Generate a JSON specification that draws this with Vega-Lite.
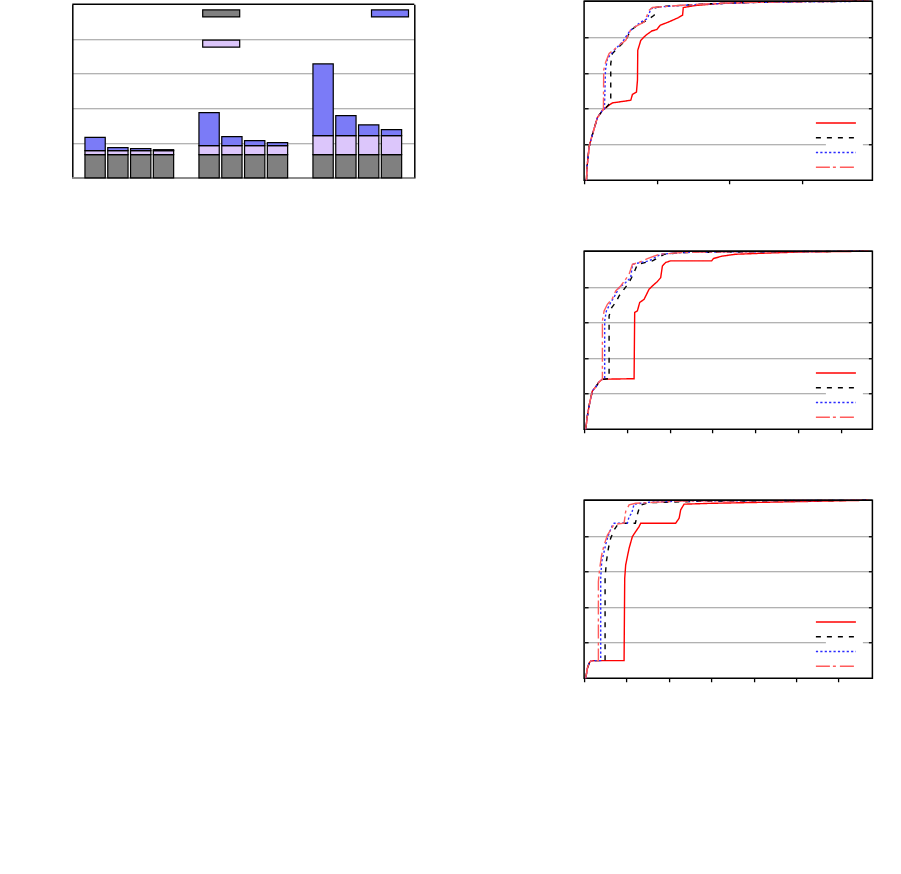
{
  "$schema": "https://vega.github.io/schema/vega-lite/v6.json",
  "background": "white",
  "padding": {"left": 71.3, "top": -2.75, "right": 0, "bottom": 0},
  "config": {
    "view": {"stroke": "black", "strokeWidth": 1.5},
    "axis": {"gridColor": "#999999", "gridWidth": 1, "minExtent": 0}
  },
  "datasets": {
    "bars": [
      {"slot": "g1a", "part": "base", "v": 0.67}, {"slot": "g1a", "part": "mid", "v": 0.115}, {"slot": "g1a", "part": "top", "v": 0.384},
      {"slot": "g1b", "part": "base", "v": 0.67}, {"slot": "g1b", "part": "mid", "v": 0.115}, {"slot": "g1b", "part": "top", "v": 0.086},
      {"slot": "g1c", "part": "base", "v": 0.67}, {"slot": "g1c", "part": "mid", "v": 0.115}, {"slot": "g1c", "part": "top", "v": 0.058},
      {"slot": "g1d", "part": "base", "v": 0.67}, {"slot": "g1d", "part": "mid", "v": 0.115}, {"slot": "g1d", "part": "top", "v": 0.029},
      {"slot": "g2a", "part": "base", "v": 0.67}, {"slot": "g2a", "part": "mid", "v": 0.26}, {"slot": "g2a", "part": "top", "v": 0.95},
      {"slot": "g2b", "part": "base", "v": 0.67}, {"slot": "g2b", "part": "mid", "v": 0.26}, {"slot": "g2b", "part": "top", "v": 0.259},
      {"slot": "g2c", "part": "base", "v": 0.67}, {"slot": "g2c", "part": "mid", "v": 0.26}, {"slot": "g2c", "part": "top", "v": 0.144},
      {"slot": "g2d", "part": "base", "v": 0.67}, {"slot": "g2d", "part": "mid", "v": 0.26}, {"slot": "g2d", "part": "top", "v": 0.086},
      {"slot": "g3a", "part": "base", "v": 0.67}, {"slot": "g3a", "part": "mid", "v": 0.55}, {"slot": "g3a", "part": "top", "v": 2.063},
      {"slot": "g3b", "part": "base", "v": 0.67}, {"slot": "g3b", "part": "mid", "v": 0.55}, {"slot": "g3b", "part": "top", "v": 0.576},
      {"slot": "g3c", "part": "base", "v": 0.67}, {"slot": "g3c", "part": "mid", "v": 0.55}, {"slot": "g3c", "part": "top", "v": 0.307},
      {"slot": "g3d", "part": "base", "v": 0.67}, {"slot": "g3d", "part": "mid", "v": 0.55}, {"slot": "g3d", "part": "top", "v": 0.173}
    ],
    "cdf1": [
      {"s":"S1","x":0.032,"y":0},{"s":"S1","x":0.041,"y":0.074},{"s":"S1","x":0.069,"y":0.186},{"s":"S1","x":0.105,"y":0.242},{"s":"S1","x":0.152,"y":0.307},{"s":"S1","x":0.183,"y":0.35},{"s":"S1","x":0.229,"y":0.376},{"s":"S1","x":0.252,"y":0.391},
      {"s":"S1","x":0.276,"y":0.397},{"s":"S1","x":0.321,"y":0.413},{"s":"S1","x":0.39,"y":0.432},{"s":"S1","x":0.643,"y":0.447},{"s":"S1","x":0.666,"y":0.48},{"s":"S1","x":0.721,"y":0.493},{"s":"S1","x":0.735,"y":0.559},{"s":"S1","x":0.739,"y":0.726},{"s":"S1","x":0.781,"y":0.782},{"s":"S1","x":0.85,"y":0.81},{"s":"S1","x":0.932,"y":0.834},{"s":"S1","x":1.001,"y":0.842},{"s":"S1","x":1.048,"y":0.866},{"s":"S1","x":1.163,"y":0.884},{"s":"S1","x":1.301,"y":0.909},{"s":"S1","x":1.356,"y":0.922},{"s":"S1","x":1.366,"y":0.965},{"s":"S1","x":1.531,"y":0.976},{"s":"S1","x":1.852,"y":0.987},{"s":"S1","x":2.308,"y":0.994},{"s":"S1","x":2.997,"y":0.999},{"s":"S1","x":3.92,"y":1.0},
      {"s":"S2","x":0.032,"y":0},{"s":"S2","x":0.041,"y":0.074},{"s":"S2","x":0.069,"y":0.186},{"s":"S2","x":0.105,"y":0.242},{"s":"S2","x":0.152,"y":0.307},{"s":"S2","x":0.183,"y":0.35},{"s":"S2","x":0.229,"y":0.376},{"s":"S2","x":0.262,"y":0.388},
      {"s":"S2","x":0.367,"y":0.435},{"s":"S2","x":0.367,"y":0.652},{"s":"S2","x":0.39,"y":0.708},{"s":"S2","x":0.459,"y":0.736},{"s":"S2","x":0.574,"y":0.782},{"s":"S2","x":0.643,"y":0.838},{"s":"S2","x":0.735,"y":0.866},{"s":"S2","x":0.85,"y":0.89},{"s":"S2","x":0.966,"y":0.922},{"s":"S2","x":0.979,"y":0.965},{"s":"S2","x":1.126,"y":0.972},{"s":"S2","x":1.71,"y":0.986},{"s":"S2","x":2.68,"y":0.997},{"s":"S2","x":3.92,"y":1.0},
      {"s":"S3","x":0.032,"y":0},{"s":"S3","x":0.041,"y":0.074},{"s":"S3","x":0.069,"y":0.186},{"s":"S3","x":0.105,"y":0.242},{"s":"S3","x":0.152,"y":0.307},{"s":"S3","x":0.183,"y":0.35},{"s":"S3","x":0.229,"y":0.376},{"s":"S3","x":0.252,"y":0.391},
      {"s":"S3","x":0.28,"y":0.397},{"s":"S3","x":0.294,"y":0.615},{"s":"S3","x":0.321,"y":0.68},{"s":"S3","x":0.414,"y":0.726},{"s":"S3","x":0.528,"y":0.773},{"s":"S3","x":0.621,"y":0.828},{"s":"S3","x":0.666,"y":0.847},{"s":"S3","x":0.781,"y":0.884},{"s":"S3","x":0.873,"y":0.903},{"s":"S3","x":0.919,"y":0.959},{"s":"S3","x":1.034,"y":0.968},{"s":"S3","x":1.577,"y":0.983},{"s":"S3","x":2.4,"y":0.994},{"s":"S3","x":3.92,"y":1.0},
      {"s":"S4","x":0.032,"y":0},{"s":"S4","x":0.041,"y":0.074},{"s":"S4","x":0.069,"y":0.186},{"s":"S4","x":0.105,"y":0.242},{"s":"S4","x":0.152,"y":0.307},{"s":"S4","x":0.183,"y":0.35},{"s":"S4","x":0.229,"y":0.376},{"s":"S4","x":0.252,"y":0.391},
      {"s":"S4","x":0.266,"y":0.395},{"s":"S4","x":0.27,"y":0.615},{"s":"S4","x":0.298,"y":0.661},{"s":"S4","x":0.345,"y":0.708},{"s":"S4","x":0.414,"y":0.73},{"s":"S4","x":0.483,"y":0.754},{"s":"S4","x":0.574,"y":0.782},{"s":"S4","x":0.643,"y":0.842},{"s":"S4","x":0.712,"y":0.86},{"s":"S4","x":0.828,"y":0.884},{"s":"S4","x":0.897,"y":0.95},{"s":"S4","x":0.942,"y":0.965},{"s":"S4","x":1.356,"y":0.978},{"s":"S4","x":1.852,"y":0.989},{"s":"S4","x":2.68,"y":0.997},{"s":"S4","x":3.92,"y":1.0}
    ],
    "cdf2": [
      {"s":"S1","x":0.037,"y":0},{"s":"S1","x":0.077,"y":0.075},{"s":"S1","x":0.131,"y":0.15},{"s":"S1","x":0.194,"y":0.215},{"s":"S1","x":0.287,"y":0.243},{"s":"S1","x":0.35,"y":0.266},{"s":"S1","x":0.428,"y":0.281},
      {"s":"S1","x":1.168,"y":0.284},{"s":"S1","x":1.182,"y":0.656},{"s":"S1","x":1.245,"y":0.665},{"s":"S1","x":1.299,"y":0.712},{"s":"S1","x":1.402,"y":0.73},{"s":"S1","x":1.519,"y":0.787},{"s":"S1","x":1.596,"y":0.805},{"s":"S1","x":1.713,"y":0.83},{"s":"S1","x":1.79,"y":0.852},{"s":"S1","x":1.829,"y":0.917},{"s":"S1","x":1.907,"y":0.937},{"s":"S1","x":2.023,"y":0.946},{"s":"S1","x":2.981,"y":0.946},{"s":"S1","x":3.021,"y":0.959},{"s":"S1","x":3.215,"y":0.972},{"s":"S1","x":3.528,"y":0.983},{"s":"S1","x":4.306,"y":0.99},{"s":"S1","x":5.077,"y":0.996},{"s":"S1","x":6.64,"y":1.0},
      {"s":"S2","x":0.037,"y":0},{"s":"S2","x":0.077,"y":0.075},{"s":"S2","x":0.131,"y":0.15},{"s":"S2","x":0.194,"y":0.215},{"s":"S2","x":0.287,"y":0.243},{"s":"S2","x":0.35,"y":0.266},{"s":"S2","x":0.428,"y":0.281},
      {"s":"S2","x":0.584,"y":0.284},{"s":"S2","x":0.584,"y":0.637},{"s":"S2","x":0.645,"y":0.684},{"s":"S2","x":0.738,"y":0.712},{"s":"S2","x":0.818,"y":0.749},{"s":"S2","x":0.935,"y":0.787},{"s":"S2","x":1.051,"y":0.824},{"s":"S2","x":1.168,"y":0.88},{"s":"S2","x":1.245,"y":0.927},{"s":"S2","x":1.596,"y":0.946},{"s":"S2","x":1.869,"y":0.983},{"s":"S2","x":2.297,"y":0.993},{"s":"S2","x":4.07,"y":0.997},{"s":"S2","x":6.64,"y":1.0},
      {"s":"S3","x":0.037,"y":0},{"s":"S3","x":0.077,"y":0.075},{"s":"S3","x":0.131,"y":0.15},{"s":"S3","x":0.194,"y":0.215},{"s":"S3","x":0.287,"y":0.243},{"s":"S3","x":0.35,"y":0.266},{"s":"S3","x":0.428,"y":0.281},
      {"s":"S3","x":0.481,"y":0.284},{"s":"S3","x":0.481,"y":0.608},{"s":"S3","x":0.521,"y":0.665},{"s":"S3","x":0.621,"y":0.712},{"s":"S3","x":0.738,"y":0.758},{"s":"S3","x":0.818,"y":0.796},{"s":"S3","x":0.972,"y":0.824},{"s":"S3","x":1.089,"y":0.852},{"s":"S3","x":1.129,"y":0.927},{"s":"S3","x":1.519,"y":0.946},{"s":"S3","x":1.79,"y":0.983},{"s":"S3","x":2.297,"y":0.993},{"s":"S3","x":3.605,"y":0.997},{"s":"S3","x":6.64,"y":1.0},
      {"s":"S4","x":0.037,"y":0},{"s":"S4","x":0.077,"y":0.075},{"s":"S4","x":0.131,"y":0.15},{"s":"S4","x":0.194,"y":0.215},{"s":"S4","x":0.287,"y":0.243},{"s":"S4","x":0.35,"y":0.266},{"s":"S4","x":0.428,"y":0.281},
      {"s":"S4","x":0.428,"y":0.608},{"s":"S4","x":0.467,"y":0.665},{"s":"S4","x":0.544,"y":0.702},{"s":"S4","x":0.661,"y":0.734},{"s":"S4","x":0.738,"y":0.777},{"s":"S4","x":0.855,"y":0.805},{"s":"S4","x":0.972,"y":0.843},{"s":"S4","x":1.051,"y":0.871},{"s":"S4","x":1.129,"y":0.927},{"s":"S4","x":1.285,"y":0.937},{"s":"S4","x":1.479,"y":0.959},{"s":"S4","x":1.752,"y":0.983},{"s":"S4","x":2.297,"y":0.993},{"s":"S4","x":2.998,"y":0.996},{"s":"S4","x":6.64,"y":1.0}
    ],
    "cdf3": [
      {"s":"S1","x":0.038,"y":0},{"s":"S1","x":0.078,"y":0.056},{"s":"S1","x":0.118,"y":0.084},{"s":"S1","x":0.156,"y":0.097},{"s":"S1","x":0.236,"y":0.099},{"s":"S1","x":0.314,"y":0.099},
      {"s":"S1","x":0.943,"y":0.099},{"s":"S1","x":0.958,"y":0.562},{"s":"S1","x":0.981,"y":0.637},{"s":"S1","x":1.061,"y":0.73},{"s":"S1","x":1.139,"y":0.796},{"s":"S1","x":1.217,"y":0.824},{"s":"S1","x":1.297,"y":0.852},{"s":"S1","x":1.335,"y":0.871},{"s":"S1","x":2.16,"y":0.871},{"s":"S1","x":2.241,"y":0.899},{"s":"S1","x":2.278,"y":0.946},{"s":"S1","x":2.358,"y":0.978},{"s":"S1","x":3.026,"y":0.983},{"s":"S1","x":4.347,"y":0.989},{"s":"S1","x":6.7,"y":1.0},
      {"s":"S2","x":0.038,"y":0},{"s":"S2","x":0.078,"y":0.056},{"s":"S2","x":0.118,"y":0.084},{"s":"S2","x":0.156,"y":0.097},{"s":"S2","x":0.236,"y":0.099},{"s":"S2","x":0.314,"y":0.099},
      {"s":"S2","x":0.495,"y":0.099},{"s":"S2","x":0.495,"y":0.562},{"s":"S2","x":0.526,"y":0.656},{"s":"S2","x":0.573,"y":0.73},{"s":"S2","x":0.627,"y":0.787},{"s":"S2","x":0.708,"y":0.833},{"s":"S2","x":0.785,"y":0.861},{"s":"S2","x":0.856,"y":0.871},{"s":"S2","x":1.21,"y":0.871},{"s":"S2","x":1.257,"y":0.921},{"s":"S2","x":1.321,"y":0.972},{"s":"S2","x":1.517,"y":0.986},{"s":"S2","x":2.696,"y":0.994},{"s":"S2","x":6.7,"y":1.0},
      {"s":"S3","x":0.038,"y":0},{"s":"S3","x":0.078,"y":0.056},{"s":"S3","x":0.118,"y":0.084},{"s":"S3","x":0.156,"y":0.097},{"s":"S3","x":0.236,"y":0.099},{"s":"S3","x":0.314,"y":0.099},
      {"s":"S3","x":0.392,"y":0.099},{"s":"S3","x":0.392,"y":0.562},{"s":"S3","x":0.415,"y":0.656},{"s":"S3","x":0.472,"y":0.712},{"s":"S3","x":0.526,"y":0.768},{"s":"S3","x":0.59,"y":0.815},{"s":"S3","x":0.667,"y":0.858},{"s":"S3","x":0.708,"y":0.871},{"s":"S3","x":1.021,"y":0.871},{"s":"S3","x":1.061,"y":0.908},{"s":"S3","x":1.123,"y":0.927},{"s":"S3","x":1.179,"y":0.978},{"s":"S3","x":1.533,"y":0.989},{"s":"S3","x":2.318,"y":0.996},{"s":"S3","x":6.7,"y":1.0},
      {"s":"S4","x":0.038,"y":0},{"s":"S4","x":0.078,"y":0.056},{"s":"S4","x":0.118,"y":0.084},{"s":"S4","x":0.156,"y":0.097},{"s":"S4","x":0.236,"y":0.099},{"s":"S4","x":0.314,"y":0.099},
      {"s":"S4","x":0.337,"y":0.099},{"s":"S4","x":0.337,"y":0.543},{"s":"S4","x":0.368,"y":0.618},{"s":"S4","x":0.415,"y":0.693},{"s":"S4","x":0.472,"y":0.749},{"s":"S4","x":0.55,"y":0.805},{"s":"S4","x":0.627,"y":0.833},{"s":"S4","x":0.708,"y":0.865},{"s":"S4","x":0.943,"y":0.871},{"s":"S4","x":0.981,"y":0.937},{"s":"S4","x":1.061,"y":0.974},{"s":"S4","x":1.217,"y":0.983},{"s":"S4","x":2.318,"y":0.996},{"s":"S4","x":6.7,"y":1.0}
    ]
  },
  "hconcat": [
    {
      "width": 342,
      "height": 176.7,
      "view": {"stroke": null},
      "layer": [
        {
          "data": {"values": [{}]},
          "mark": {"type": "rule", "color": "#8c8c8c", "strokeWidth": 2},
          "encoding": {
            "y": {"datum": 0, "type": "quantitative", "scale": {"domain": [0, 5], "range": [176.7, 3]}, "axis": null}
          }
        },
        {
          "data": {"name": "bars"},
          "mark": {"type": "bar", "stroke": "black", "strokeWidth": 1.2},
          "encoding": {
            "x": {"field": "slot", "type": "nominal",
                  "scale": {"type": "band", "domain": ["g1a","g1b","g1c","g1d","s1","g2a","g2b","g2c","g2d","s2","g3a","g3b","g3c","g3d"], "paddingInner": 0.11, "paddingOuter": 0.555},
                  "axis": null},
            "y": {"field": "v", "type": "quantitative", "stack": "zero", "scale": {"domain": [0, 5], "range": [176.7, 3]},
                  "axis": {"title": null, "labels": false, "ticks": false, "domain": true, "domainColor": "black", "domainWidth": 1.5, "grid": true, "values": [1, 2, 3, 4]}},
            "color": {"field": "part", "type": "nominal",
                      "scale": {"domain": ["base", "mid", "top"], "range": ["#808080", "#DCC6FB", "#7B7BF7"]},
                      "legend": {"title": null, "orient": "none", "legendX": 136.8, "legendY": 0, "columns": 2, "columnPadding": 126.8, "rowPadding": 18.3,
                                 "symbolType": "M-3.7,-0.7L3.7,-0.7L3.7,0.7L-3.7,0.7Z", "symbolSize": 100, "symbolStrokeColor": "black", "symbolStrokeWidth": 1.2, "symbolOpacity": 1,
                                 "labelExpr": "''", "labelOffset": 0, "labelFontSize": 7, "padding": 6.1}},
            "order": {"field": "part", "sort": "ascending"}
          }
        },
        {
          "data": {"values": [{}]},
          "mark": {"type": "rule", "color": "black", "strokeWidth": 1.5},
          "encoding": {
            "y": {"datum": 5, "type": "quantitative",
                  "axis": {"orient": "right", "title": null, "labels": false, "ticks": false, "domain": true, "domainColor": "black", "domainWidth": 1.5, "grid": false}}
          }
        }
      ],
      "resolve": {"axis": {"y": "independent"}}
    },
    {
      "spacing": 62,
      "vconcat": [
        {
          "width": 288.3,
          "height": 179,
          "layer": [
            {
              "data": {"name": "cdf1"},
              "mark": {"type": "line", "strokeWidth": 1.4},
              "encoding": {
                "x": {"field": "x", "type": "quantitative", "scale": {"domain": [0, 3.97], "nice": false, "zero": false},
                      "axis": {"title": null, "labels": false, "domain": false, "grid": false, "ticks": true, "tickSize": 3.5, "tickColor": "black", "tickWidth": 1.3, "values": [0, 1, 2, 3]}},
                "y": {"field": "y", "type": "quantitative", "scale": {"domain": [0, 1], "nice": false},
                      "axis": {"title": null, "labels": false, "domain": false, "grid": true, "values": [0.2, 0.4, 0.6, 0.8], "ticks": true, "tickSize": -4, "tickColor": "black", "tickWidth": 1.3}},
                "color": {"field": "s", "type": "nominal", "scale": {"domain": ["S1","S2","S3","S4"], "range": ["#FF0000", "#000000", "#2B2BFF", "#FF5C5C"]},
                          "legend": {"title": null, "orient": "none", "legendX": 241.8, "legendY": 111.8, "symbolType": "M-4,0L4,0", "symbolSize": 100, "symbolStrokeWidth": 1.5, "fillColor": "white", "padding": 4, "rowPadding": 3.7, "labelExpr": "''", "labelOffset": 14, "labelFontSize": 10}},
                "strokeDash": {"field": "s", "type": "nominal", "scale": {"domain": ["S1","S2","S3","S4"], "range": [[1, 0], [5, 6], [2.2, 2.2], [14, 3, 3, 4]]},
                          "legend": {"title": null, "orient": "none", "legendX": 241.8, "legendY": 111.8, "symbolType": "M-4,0L4,0", "symbolSize": 100, "symbolStrokeWidth": 1.5, "fillColor": "white", "padding": 4, "rowPadding": 3.7, "labelExpr": "''", "labelOffset": 14, "labelFontSize": 10}},
                "order": {"value": null}
              }
            },
            {
              "data": {"values": [{}]},
              "mark": {"type": "rule", "color": "black", "strokeWidth": 1.5},
              "encoding": {
                "y": {"datum": 1, "type": "quantitative",
                      "axis": {"orient": "right", "title": null, "labels": false, "domain": false, "grid": false, "values": [0.2, 0.4, 0.6, 0.8], "ticks": true, "tickSize": -4, "tickColor": "black", "tickWidth": 1.3}}
              }
            }
          ],
          "resolve": {"axis": {"y": "independent"}}
        },
        {
          "width": 288.3,
          "height": 178,
          "layer": [
            {
              "data": {"name": "cdf2"},
              "mark": {"type": "line", "strokeWidth": 1.4},
              "encoding": {
                "x": {"field": "x", "type": "quantitative", "scale": {"domain": [0, 6.736], "nice": false, "zero": false},
                      "axis": {"title": null, "labels": false, "domain": false, "grid": false, "ticks": true, "tickSize": 3.5, "tickColor": "black", "tickWidth": 1.3, "values": [0, 1, 2, 3, 4, 5, 6]}},
                "y": {"field": "y", "type": "quantitative", "scale": {"domain": [0, 1], "nice": false},
                      "axis": {"title": null, "labels": false, "domain": false, "grid": true, "values": [0.2, 0.4, 0.6, 0.8], "ticks": true, "tickSize": -4, "tickColor": "black", "tickWidth": 1.3}},
                "color": {"field": "s", "type": "nominal", "scale": {"domain": ["S1","S2","S3","S4"], "range": ["#FF0000", "#000000", "#2B2BFF", "#FF5C5C"]},
                          "legend": {"title": null, "orient": "none", "legendX": 241.8, "legendY": 111.8, "symbolType": "M-4,0L4,0", "symbolSize": 100, "symbolStrokeWidth": 1.5, "fillColor": "white", "padding": 4, "rowPadding": 3.7, "labelExpr": "''", "labelOffset": 14, "labelFontSize": 10}},
                "strokeDash": {"field": "s", "type": "nominal", "scale": {"domain": ["S1","S2","S3","S4"], "range": [[1, 0], [5, 6], [2.2, 2.2], [14, 3, 3, 4]]},
                          "legend": {"title": null, "orient": "none", "legendX": 241.8, "legendY": 111.8, "symbolType": "M-4,0L4,0", "symbolSize": 100, "symbolStrokeWidth": 1.5, "fillColor": "white", "padding": 4, "rowPadding": 3.7, "labelExpr": "''", "labelOffset": 14, "labelFontSize": 10}},
                "order": {"value": null}
              }
            },
            {
              "data": {"values": [{}]},
              "mark": {"type": "rule", "color": "black", "strokeWidth": 1.5},
              "encoding": {
                "y": {"datum": 1, "type": "quantitative",
                      "axis": {"orient": "right", "title": null, "labels": false, "domain": false, "grid": false, "values": [0.2, 0.4, 0.6, 0.8], "ticks": true, "tickSize": -4, "tickColor": "black", "tickWidth": 1.3}}
              }
            }
          ],
          "resolve": {"axis": {"y": "independent"}}
        },
        {
          "width": 288.3,
          "height": 178,
          "layer": [
            {
              "data": {"name": "cdf3"},
              "mark": {"type": "line", "strokeWidth": 1.4},
              "encoding": {
                "x": {"field": "x", "type": "quantitative", "scale": {"domain": [0, 6.8], "nice": false, "zero": false},
                      "axis": {"title": null, "labels": false, "domain": false, "grid": false, "ticks": true, "tickSize": 3.5, "tickColor": "black", "tickWidth": 1.3, "values": [0, 1, 2, 3, 4, 5, 6]}},
                "y": {"field": "y", "type": "quantitative", "scale": {"domain": [0, 1], "nice": false},
                      "axis": {"title": null, "labels": false, "domain": false, "grid": true, "values": [0.2, 0.4, 0.6, 0.8], "ticks": true, "tickSize": -4, "tickColor": "black", "tickWidth": 1.3}},
                "color": {"field": "s", "type": "nominal", "scale": {"domain": ["S1","S2","S3","S4"], "range": ["#FF0000", "#000000", "#2B2BFF", "#FF5C5C"]},
                          "legend": {"title": null, "orient": "none", "legendX": 241.8, "legendY": 111.8, "symbolType": "M-4,0L4,0", "symbolSize": 100, "symbolStrokeWidth": 1.5, "fillColor": "white", "padding": 4, "rowPadding": 3.7, "labelExpr": "''", "labelOffset": 14, "labelFontSize": 10}},
                "strokeDash": {"field": "s", "type": "nominal", "scale": {"domain": ["S1","S2","S3","S4"], "range": [[1, 0], [5, 6], [2.2, 2.2], [14, 3, 3, 4]]},
                          "legend": {"title": null, "orient": "none", "legendX": 241.8, "legendY": 111.8, "symbolType": "M-4,0L4,0", "symbolSize": 100, "symbolStrokeWidth": 1.5, "fillColor": "white", "padding": 4, "rowPadding": 3.7, "labelExpr": "''", "labelOffset": 14, "labelFontSize": 10}},
                "order": {"value": null}
              }
            },
            {
              "data": {"values": [{}]},
              "mark": {"type": "rule", "color": "black", "strokeWidth": 1.5},
              "encoding": {
                "y": {"datum": 1, "type": "quantitative",
                      "axis": {"orient": "right", "title": null, "labels": false, "domain": false, "grid": false, "values": [0.2, 0.4, 0.6, 0.8], "ticks": true, "tickSize": -4, "tickColor": "black", "tickWidth": 1.3}}
              }
            }
          ],
          "resolve": {"axis": {"y": "independent"}}
        }
      ],
      "resolve": {"scale": {"color": "independent", "strokeDash": "independent"}, "legend": {"color": "independent", "strokeDash": "independent"}}
    }
  ],
  "spacing": 164.8,
  "resolve": {"scale": {"color": "independent", "strokeDash": "independent"}, "legend": {"color": "independent", "strokeDash": "independent"}}
}
